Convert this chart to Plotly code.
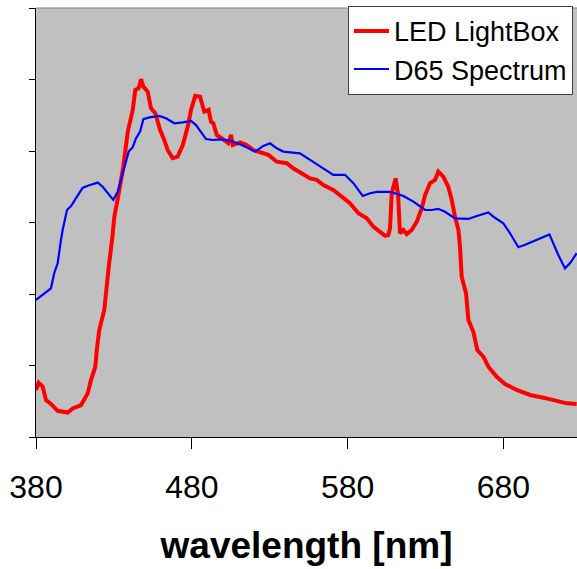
import plotly.graph_objects as go

# LED LightBox spectrum (wavelength nm, relative power)
led_wl = [380.0, 381.7, 384.3, 386.4, 389.6, 393.9, 400.3, 403.6, 408.9, 413.2, 415.3, 418.1, 419.0,
          420.6, 423.8, 424.9, 426.7, 428.8, 430.3, 433.1, 436.0, 438.9, 442.1, 443.7, 445.9, 447.4,
          448.9, 451.7, 453.8, 456.6, 459.6, 462.3, 464.5, 467.7, 470.9, 474.2, 477.4, 479.5, 482.2,
          485.3, 488.0, 490.8, 492.3, 493.8, 496.0, 500.2, 503.4, 505.2, 506.3, 510.9, 515.2, 519.5,
          525.9, 529.1, 534.5, 540.9, 545.1, 549.4, 555.9, 560.2, 564.4, 570.8, 577.2, 581.5, 586.9,
          592.3, 596.5, 600.8, 604.0, 606.1, 607.2, 608.3, 610.8, 612.4, 613.6, 615.8, 617.9, 621.1,
          624.4, 627.6, 629.7, 632.9, 636.1, 638.2, 641.4, 644.6, 646.8, 648.9, 651.1, 652.1, 652.8,
          653.2, 656.0, 657.5, 660.7, 663.2, 667.1, 670.3, 675.7, 681.0, 688.5, 697.1, 705.6, 714.2,
          720.6, 727.0]
led_val = [0.158, 0.182, 0.169, 0.124, 0.111, 0.088, 0.082, 0.096, 0.107, 0.147, 0.191, 0.236, 0.292,
           0.359, 0.426, 0.493, 0.572, 0.661, 0.740, 0.818, 0.907, 1.025, 1.098, 1.165, 1.171, 1.201,
           1.176, 1.159, 1.103, 1.087, 1.031, 0.997, 0.963, 0.936, 0.941, 0.980, 1.042, 1.098, 1.145,
           1.142, 1.092, 1.098, 1.058, 1.053, 1.014, 0.999, 0.986, 1.014, 0.980, 0.989, 0.980, 0.963,
           0.950, 0.947, 0.924, 0.919, 0.902, 0.887, 0.868, 0.863, 0.846, 0.829, 0.801, 0.785, 0.751,
           0.734, 0.706, 0.686, 0.675, 0.678, 0.701, 0.818, 0.868, 0.812, 0.684, 0.695, 0.681, 0.695,
           0.723, 0.768, 0.812, 0.852, 0.863, 0.891, 0.874, 0.840, 0.796, 0.740, 0.695, 0.639, 0.566,
           0.538, 0.482, 0.393, 0.353, 0.292, 0.270, 0.236, 0.202, 0.178, 0.158, 0.141, 0.132, 0.122,
           0.113, 0.111]

# D65 spectrum
d65_wl = [380.0, 384.3, 389.6, 391.7, 393.9, 396.0, 397.1, 399.9, 402.5, 405.7, 410.0, 414.2, 419.6,
          422.8, 426.0, 429.6, 432.4, 436.0, 439.5, 442.1, 444.2, 446.8, 448.9, 452.7, 459.1, 463.4,
          468.8, 474.2, 479.5, 482.7, 485.9, 489.1, 493.4, 498.1, 504.5, 512.0, 520.6, 525.9, 530.2,
          534.5, 538.7, 549.4, 555.9, 564.4, 570.8, 578.3, 583.7, 589.7, 594.4, 598.7, 607.2, 615.8,
          622.2, 629.7, 634.0, 638.2, 642.5, 648.9, 657.5, 662.9, 670.3, 673.5, 679.9, 684.2, 689.6,
          693.9, 701.4, 709.5, 712.0, 715.2, 719.5, 722.7, 727.0]
d65_val = [0.460, 0.477, 0.499, 0.550, 0.583, 0.661, 0.695, 0.762, 0.775, 0.802, 0.837, 0.845, 0.854,
           0.840, 0.818, 0.796, 0.823, 0.891, 0.958, 0.973, 1.003, 1.025, 1.067, 1.073, 1.078, 1.070,
           1.053, 1.056, 1.061, 1.047, 1.025, 1.000, 0.997, 0.999, 0.995, 0.980, 0.958, 0.977, 0.986,
           0.969, 0.958, 0.952, 0.930, 0.902, 0.880, 0.880, 0.852, 0.809, 0.818, 0.823, 0.823, 0.809,
           0.790, 0.762, 0.762, 0.766, 0.756, 0.734, 0.732, 0.742, 0.754, 0.740, 0.717, 0.684, 0.637,
           0.645, 0.661, 0.680, 0.650, 0.611, 0.566, 0.583, 0.617]

x_ticks = [380, 480, 580, 680]

FONT = "Arial, Liberation Sans, sans-serif"

fig = go.Figure()
fig.add_trace(go.Scatter(x=led_wl, y=led_val, mode="lines", name="LED LightBox",
                         line=dict(color="#FF0000", width=4), legendgroup="a"))
fig.add_trace(go.Scatter(x=d65_wl, y=d65_val, mode="lines", name="D65 Spectrum",
                         line=dict(color="#0000FF", width=2.2), legendgroup="b"))

fig.update_layout(
    width=577, height=569,
    margin=dict(l=36, r=0, t=8, b=132),
    paper_bgcolor="white",
    plot_bgcolor="#C0C0C0",
    font=dict(family=FONT, color="black"),
    showlegend=True,
    legend=dict(x=0.5767, y=1.005, xanchor="left", yanchor="top",
                bgcolor="white", bordercolor="#404040", borderwidth=1,
                font=dict(size=27, family=FONT, color="black"),
                itemwidth=35, tracegroupgap=0),
    xaxis=dict(range=[380, 727.2], tickvals=x_ticks, ticktext=[str(t) for t in x_ticks],
               showgrid=False, zeroline=False, showline=True, linecolor="black", linewidth=1,
               ticks="outside", ticklen=11, tickcolor="black", tickwidth=1,
               tickfont=dict(size=32, family=FONT, color="black"),
               ticklabelstandoff=11,
               title=dict(text="<b>wavelength [nm]</b>", font=dict(size=37, family=FONT, color="black"),
                          standoff=27)),
    yaxis=dict(range=[0, 1.44], tick0=0, dtick=0.24, showticklabels=False,
               showgrid=False, zeroline=False, showline=True, linecolor="black", linewidth=1,
               ticks="outside", ticklen=6, tickcolor="black", tickwidth=1),
)

fig.add_shape(type="line", xref="paper", yref="paper", x0=0, x1=1, y0=1, y1=1,
              line=dict(color="#808080", width=1))

fig.write_html("out.html")
